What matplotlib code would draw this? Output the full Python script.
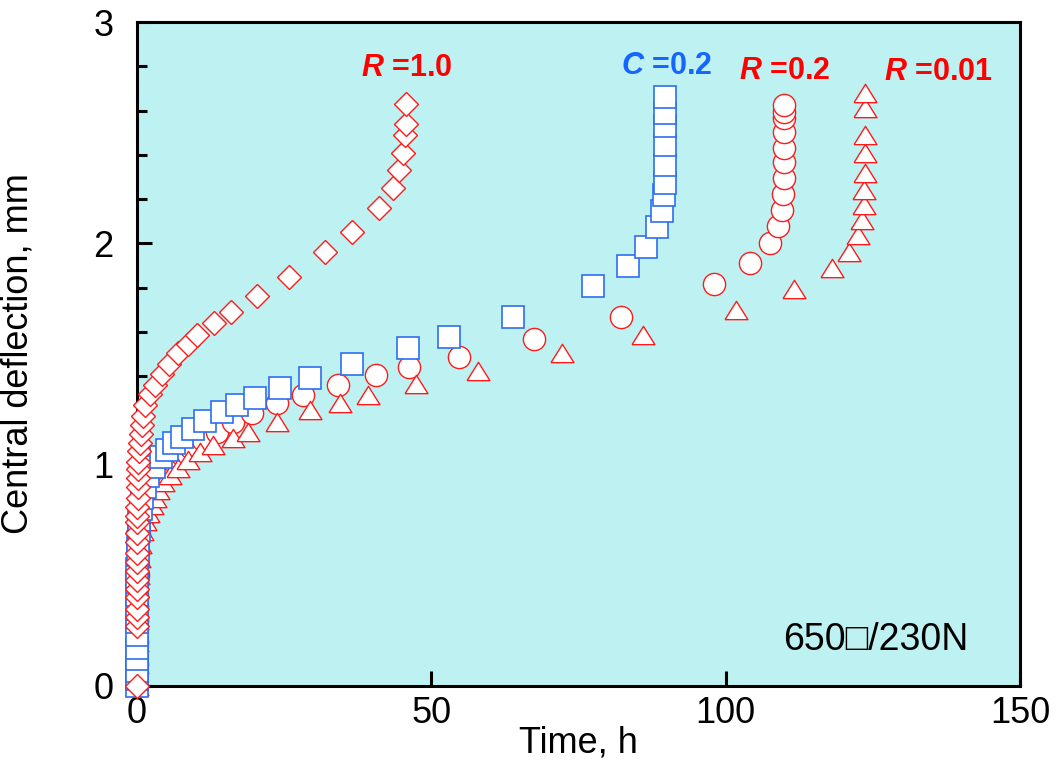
import matplotlib
matplotlib.use("Agg")
import matplotlib.pyplot as plt
from matplotlib.ticker import MultipleLocator

plt.rcParams['font.family'] = ['Liberation Sans', 'DejaVu Sans']
plt.rcParams['mathtext.fontset'] = 'custom'
plt.rcParams['mathtext.it'] = 'Liberation Sans:bold:italic'
plt.rcParams['mathtext.rm'] = 'Liberation Sans:bold'

# R=1.0 (diamonds)
t_r10 = [0, 0, 0, 0, 0, 0, 0, 0, 0, 0.02, 0.03, 0.04, 0.05, 0.06, 0.07, 0.08, 0.1,
         0.12, 0.15, 0.2, 0.3, 0.45, 0.6, 0.8, 1.0, 1.4, 2.2, 3.1, 4.2, 5.4, 7.0,
         8.7, 10.2, 13.1, 15.9, 20.4, 25.8, 31.9, 36.5, 41.1, 43.5, 44.5, 45.2,
         45.5, 45.7, 45.7]
d_r10 = [0, 0.27, 0.31, 0.35, 0.40, 0.44, 0.48, 0.52, 0.56, 0.60, 0.65, 0.69, 0.74,
         0.77, 0.81, 0.85, 0.90, 0.94, 0.98, 1.01, 1.06, 1.10, 1.14, 1.18, 1.22,
         1.27, 1.32, 1.36, 1.41, 1.455, 1.505, 1.545, 1.585, 1.64, 1.69, 1.76,
         1.85, 1.96, 2.05, 2.16, 2.25, 2.33, 2.41, 2.49, 2.54, 2.63]

# C=0.2 (squares)
t_c02 = [0, 0, 0, 0, 0, 0, 0, 0, 0.02, 0.04, 0.06, 0.1, 0.15, 0.25, 0.4, 0.6, 0.9,
         1.3, 1.9, 2.8, 4.1, 5.1, 6.3, 7.6, 9.5, 11.6, 14.4, 17.0, 20.0, 24.3,
         29.4, 36.5, 46.0, 53.0, 63.9, 77.5, 83.4, 86.5, 88.3, 89.2, 89.5, 89.7,
         89.7, 89.7, 89.7, 89.7, 89.7]
d_c02 = [0, 0.03, 0.07, 0.12, 0.17, 0.23, 0.29, 0.35, 0.41, 0.47, 0.53, 0.59, 0.65,
         0.70, 0.75, 0.80, 0.85, 0.90, 0.95, 0.99, 1.035, 1.066, 1.098, 1.125,
         1.161, 1.197, 1.238, 1.270, 1.301, 1.347, 1.392, 1.455, 1.527, 1.577,
         1.667, 1.808, 1.898, 1.984, 2.074, 2.146, 2.219, 2.273, 2.354, 2.445,
         2.530, 2.589, 2.662]

# R=0.2 (circles)
t_r02 = [0, 0, 0, 0.02, 0.05, 0.1, 0.2, 0.4, 0.8, 1.4, 2.2, 3.2, 4.5, 6.0, 7.5, 9.0,
         11.2, 13.6, 16.3, 19.5, 23.8, 28.2, 34.1, 40.6, 46.2, 54.7, 67.4, 82.2,
         98.0, 104.1, 107.5, 108.9, 109.6, 109.7, 109.9, 109.9, 109.9, 109.9,
         109.9, 109.9, 109.9]
d_r02 = [0, 0.1, 0.2, 0.3, 0.4, 0.5, 0.6, 0.68, 0.75, 0.82, 0.88, 0.93, 0.98, 1.02,
         1.05, 1.080, 1.112, 1.148, 1.193, 1.234, 1.279, 1.315, 1.360, 1.405,
         1.441, 1.487, 1.568, 1.667, 1.817, 1.911, 2.002, 2.079, 2.151, 2.223,
         2.296, 2.368, 2.431, 2.503, 2.567, 2.594, 2.625]

# R=0.01 (triangles)
t_r001 = [0, 0, 0, 0.02, 0.05, 0.1, 0.25, 0.5, 0.9, 1.4, 1.9, 2.5, 3.1, 3.6, 4.4,
          5.6, 7.0, 8.7, 10.7, 12.9, 16.3, 18.9, 23.8, 29.4, 34.5, 39.2, 47.4,
          57.9, 72.2, 86.0, 101.7, 111.6, 118.1, 120.9, 122.5, 123.2, 123.5,
          123.5, 123.7, 123.7, 123.7, 123.7, 123.7]
d_r001 = [0, 0.1, 0.2, 0.3, 0.4, 0.5, 0.58, 0.64, 0.70, 0.745, 0.78, 0.818, 0.85,
          0.885, 0.92, 0.953, 0.985, 1.021, 1.057, 1.089, 1.121, 1.148, 1.193,
          1.247, 1.279, 1.315, 1.365, 1.423, 1.505, 1.586, 1.699, 1.794, 1.889,
          1.961, 2.038, 2.106, 2.174, 2.241, 2.318, 2.408, 2.490, 2.612, 2.680]

red = '#FF1A1A'
blue = '#2E6EF2'
tri = [(-1, -0.8), (1, -0.8), (0, 0.8), (-1, -0.8)]

fig = plt.figure(figsize=(10.64, 7.64), dpi=100)
ax = fig.add_axes([0.1288, 0.1021, 0.8298, 0.8691])
ax.set_facecolor('#BEF2F2')

ax.plot(t_r02, d_r02, 'o', ms=16, mfc='white', mec=red, mew=1.0, ls='none',
        zorder=2, clip_on=False)
ax.plot(t_r001, d_r001, marker=tri, ms=16.5, mfc='white', mec=red, mew=1.0, ls='none',
        zorder=3, clip_on=False)
ax.plot(t_c02, d_c02, 's', ms=16, mfc='white', mec=blue, mew=1.2, ls='none',
        zorder=4, clip_on=False)
ax.plot(t_r10, d_r10, 'D', ms=11.8, mfc='white', mec=red, mew=1.0, ls='none',
        zorder=5, clip_on=False)

ax.text(45.9, 2.79, r'$R$ =1.0', color='#FF0000', fontsize=22, fontweight='bold', ha='center', va='center')
ax.text(89.9, 2.80, r'$C$ =0.2', color='#1565FF', fontsize=22, fontweight='bold', ha='center', va='center')
ax.text(110.1, 2.78, r'$R$ =0.2', color='#FF0000', fontsize=22, fontweight='bold', ha='center', va='center')
ax.text(136.2, 2.775, r'$R$ =0.01', color='#FF0000', fontsize=22, fontweight='bold', ha='center', va='center')
ax.text(125.5, 0.21, '650\u25a1/230N', color='black', fontsize=27, ha='center', va='center',
        family=['Liberation Sans', 'DejaVu Sans'])

ax.set_xlim(0, 150)
ax.set_ylim(0, 3)
ax.xaxis.set_major_locator(MultipleLocator(50))
ax.yaxis.set_major_locator(MultipleLocator(1))
ax.yaxis.set_minor_locator(MultipleLocator(0.2))
ax.tick_params(axis='both', which='major', direction='in', length=11, width=2.2,
               labelsize=26)
ax.tick_params(axis='y', which='minor', direction='in', length=7, width=2.2)
ax.tick_params(axis='x', pad=7)
ax.tick_params(axis='y', pad=17)
for sp in ax.spines.values():
    sp.set_linewidth(2.2)
    sp.set_zorder(1)

ax.set_xlabel('Time, h', fontsize=26)
ax.set_ylabel('Central deflection, mm', fontsize=26)
ax.xaxis.set_label_coords(0.5, -0.06)
ax.yaxis.set_label_coords(-0.115, 0.5)

fig.savefig('out.png', dpi=100)
